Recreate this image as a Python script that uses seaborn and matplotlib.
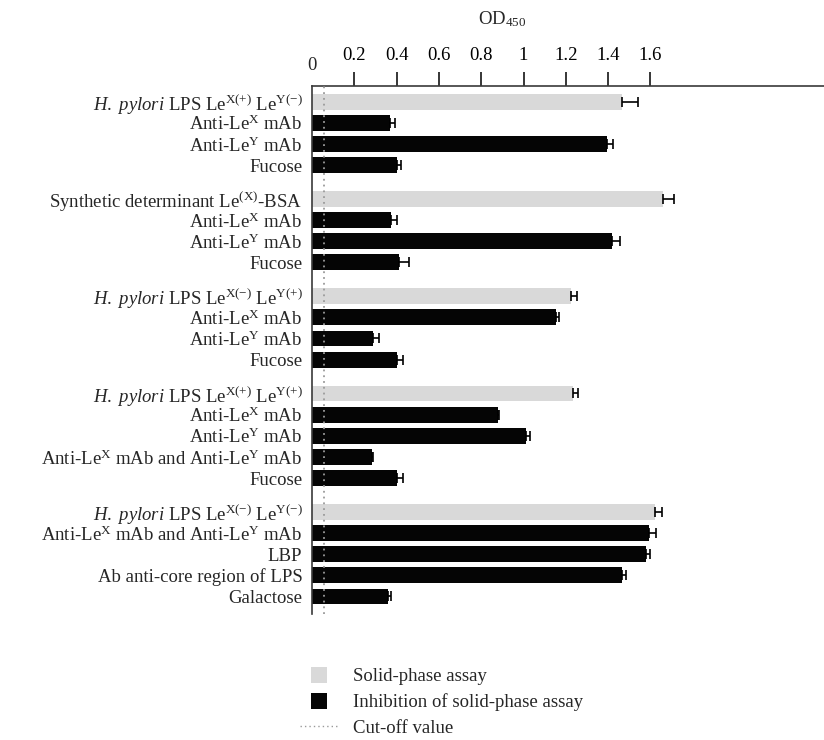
import numpy as np
import pandas as pd
import matplotlib
matplotlib.use("Agg")
import matplotlib.pyplot as plt
import matplotlib.transforms as mtrans
import seaborn as sns
from matplotlib.patches import Patch, Rectangle
from matplotlib.lines import Line2D
from matplotlib.legend_handler import HandlerPatch

# ---------------- data ----------------
labels = [
    r"$\mathit{H.\ pylori}$ LPS Le$^{\mathrm{X(+)}}$ Le$^{\mathrm{Y(-)}}$",
    r"Anti-Le$^{\mathrm{X}}$ mAb",
    r"Anti-Le$^{\mathrm{Y}}$ mAb",
    "Fucose",
    r"Synthetic determinant Le$^{\mathrm{(X)}}$-BSA",
    r"Anti-Le$^{\mathrm{X}}$ mAb",
    r"Anti-Le$^{\mathrm{Y}}$ mAb",
    "Fucose",
    r"$\mathit{H.\ pylori}$ LPS Le$^{\mathrm{X(-)}}$ Le$^{\mathrm{Y(+)}}$",
    r"Anti-Le$^{\mathrm{X}}$ mAb",
    r"Anti-Le$^{\mathrm{Y}}$ mAb",
    "Fucose",
    r"$\mathit{H.\ pylori}$ LPS Le$^{\mathrm{X(+)}}$ Le$^{\mathrm{Y(+)}}$",
    r"Anti-Le$^{\mathrm{X}}$ mAb",
    r"Anti-Le$^{\mathrm{Y}}$ mAb",
    r"Anti-Le$^{\mathrm{X}}$ mAb and Anti-Le$^{\mathrm{Y}}$ mAb",
    "Fucose",
    r"$\mathit{H.\ pylori}$ LPS Le$^{\mathrm{X(-)}}$ Le$^{\mathrm{Y(-)}}$",
    r"Anti-Le$^{\mathrm{X}}$ mAb and Anti-Le$^{\mathrm{Y}}$ mAb",
    "LBP",
    "Ab anti-core region of LPS",
    "Galactose",
]
values = [1.464, 0.369, 1.393, 0.400,
          1.658, 0.372, 1.417, 0.410,
          1.225, 1.154, 0.287, 0.400,
          1.232, 0.879, 1.010, 0.284, 0.400,
          1.622, 1.592, 1.578, 1.466, 0.358]
errors = [0.076, 0.025, 0.031, 0.020,
          0.054, 0.031, 0.039, 0.049,
          0.030, 0.016, 0.028, 0.031,
          0.024, 0.006, 0.019, 0.006, 0.029,
          0.032, 0.033, 0.022, 0.017, 0.016]
S = "Solid-phase assay"
I = "Inhibition of solid-phase assay"
kinds = [S, I, I, I,
         S, I, I, I,
         S, I, I, I,
         S, I, I, I, I,
         S, I, I, I, I]
group_sizes = [4, 4, 4, 5, 5]
cutoff = 0.057
tick_values = [0.2, 0.4, 0.6, 0.8, 1.0, 1.2, 1.4, 1.6]
tick_labels = ["0.2", "0.4", "0.6", "0.8", "1", "1.2", "1.4", "1.6"]
legend_labels = [S, I, "Cut-off value"]

# ---------------- style ----------------
sns.set_style("white")
plt.rcParams["font.family"] = ["Liberation Serif", "DejaVu Serif"]
plt.rcParams["mathtext.fontset"] = "custom"
plt.rcParams["mathtext.rm"] = "Liberation Serif"
plt.rcParams["mathtext.it"] = "Liberation Serif:italic"
plt.rcParams["mathtext.bf"] = "Liberation Serif:bold"
FS = 13.5
GRAY = "#d9d9d9"
BLACK = "#050505"
AXC = "#3a3a3a"

# row positions (layout): groups separated by extra gap
gap = 0.6
pos = []
y = 0.0
for n in group_sizes:
    for _ in range(n):
        pos.append(round(y, 3))
        y += 1
    y += gap

df = pd.DataFrame({"label": labels, "value": values, "err": errors,
                   "kind": kinds, "pos": pos})

fig = plt.figure(figsize=(8.24, 7.4), dpi=100)
ax = fig.add_axes([312 / 824, 1 - 614 / 740, 512 / 824, 528 / 740])

sns.barplot(data=df, x="value", y="pos", hue="kind", orient="h",
            native_scale=True, dodge=False, width=0.75, errorbar=None,
            palette={S: GRAY, I: BLACK}, saturation=1, linewidth=0,
            legend=False, ax=ax)

ax.errorbar(df["value"], df["pos"], xerr=[np.zeros(len(df)), df["err"]],
            fmt="none", ecolor="black", elinewidth=1.2, capsize=3.3,
            capthick=1.2, zorder=3)

ax.axvline(cutoff, color="#9a9a9a", linestyle=(0, (1, 2.2)), lw=1.3, zorder=4)

ax.set_xlim(0, 512 / 211.5)
ax.set_ylim(24.23, -0.74)

ax.set_yticks(df["pos"])
ax.set_yticklabels(df["label"], fontsize=FS)
ax.set_ylabel("")
ax.set_xlabel("")

ax.xaxis.tick_top()
ax.set_xticks(tick_values)
ax.set_xticklabels(tick_labels, fontsize=FS)
ax.tick_params(axis="x", direction="out", length=10, width=1.1, pad=6,
               colors="black", top=True, bottom=False)
ax.tick_params(axis="y", length=0, pad=7)

for side in ["right", "bottom"]:
    ax.spines[side].set_visible(False)
for side in ["left", "top"]:
    ax.spines[side].set_visible(True)
    ax.spines[side].set_color(AXC)
    ax.spines[side].set_linewidth(1.2)

trans = mtrans.blended_transform_factory(ax.transData, ax.transAxes)
ax.text(0, 1 + 20 / 528, "0", transform=trans, ha="center", va="center",
        fontsize=FS)
fig.text(502 / 824, 1 - 19 / 740, r"OD$_{\mathrm{450}}$", ha="center",
         va="center", fontsize=FS)


def square(legend, orig_handle, xdescent, ydescent, width, height, fontsize):
    s = 11.5
    return Rectangle((-xdescent + (width - s) / 2, -ydescent + (height - s) / 2),
                     s, s)


handles = [Patch(facecolor=GRAY, edgecolor="none"),
           Patch(facecolor=BLACK, edgecolor="none"),
           Line2D([], [], color="#9a9a9a", linestyle=(0, (1, 2.2)), lw=1.0)]
fig.legend(handles, legend_labels, loc="upper left",
           bbox_to_anchor=(300 / 824, 1 - 668 / 740), frameon=False,
           fontsize=FS, handlelength=2.05, handletextpad=0.8,
           labelspacing=0.45, borderpad=0, borderaxespad=0,
           handler_map={Patch: HandlerPatch(patch_func=square)})

fig.savefig("out.png", dpi=100)
